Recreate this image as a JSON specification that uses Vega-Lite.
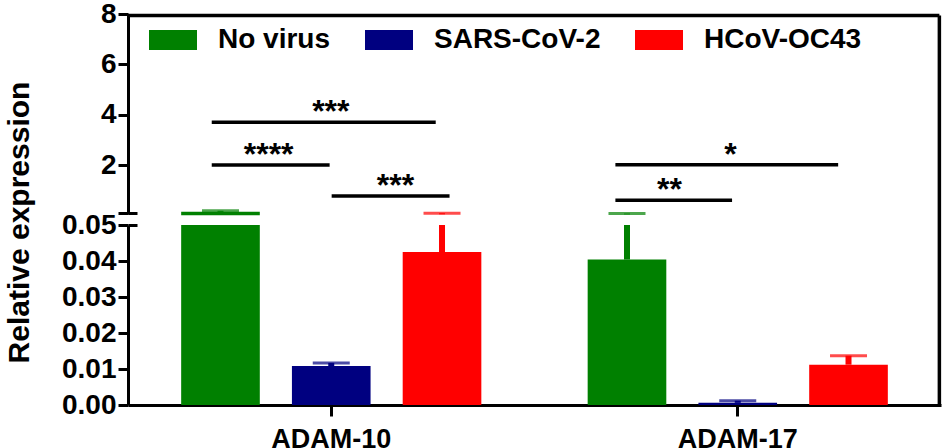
{
  "$schema": "https://vega.github.io/schema/vega-lite/v6.json",
  "description": "ADAM-10 / ADAM-17 relative expression, broken y axis",
  "padding": {"left": 3, "top": 0, "right": 2, "bottom": 0},
  "datasets": {
    "bars": [
      {"gene": "ADAM-10", "group": "No virus", "mean": 0.14, "upper": 0.18},
      {"gene": "ADAM-10", "group": "SARS-CoV-2", "mean": 0.0108, "upper": 0.0117},
      {"gene": "ADAM-10", "group": "HCoV-OC43", "mean": 0.0425, "upper": 0.083},
      {"gene": "ADAM-17", "group": "No virus", "mean": 0.0404, "upper": 0.07},
      {"gene": "ADAM-17", "group": "SARS-CoV-2", "mean": 0.0006, "upper": 0.0012},
      {"gene": "ADAM-17", "group": "HCoV-OC43", "mean": 0.0112, "upper": 0.0137}
    ],
    "sig": [
      {"x1": 0.206, "x2": 0.757, "y": 3.7, "tx": 0.499, "label": "***"},
      {"x1": 0.206, "x2": 0.496, "y": 2.0, "tx": 0.346, "label": "****"},
      {"x1": 0.501, "x2": 0.791, "y": 0.77, "tx": 0.658, "label": "***"},
      {"x1": 1.199, "x2": 1.747, "y": 2.01, "tx": 1.482, "label": "*"},
      {"x1": 1.199, "x2": 1.486, "y": 0.6, "tx": 1.332, "label": "**"}
    ],
    "frameTop": [
      {"x1": 0, "x2": 1.996, "y1": 7.94, "y2": 7.94},
      {"x1": 1.996, "x2": 1.996, "y1": -0.383, "y2": 7.94}
    ],
    "frameBottom": [
      {"x1": 1.996, "y1": 0, "y2": 0.05}
    ]
  },
  "spacing": 0,
  "bounds": "flush",
  "vconcat": [
    {
      "width": 813,
      "height": 211,
      "layer": [
        {
          "data": {"name": "bars"},
          "encoding": {
            "x": {
              "field": "gene",
              "type": "nominal",
              "scale": {"paddingInner": 0, "paddingOuter": 0},
              "axis": null
            },
            "xOffset": {
              "field": "group",
              "type": "nominal",
              "sort": ["No virus", "SARS-CoV-2", "HCoV-OC43"],
              "scale": {"paddingInner": 0.29, "paddingOuter": 0.48}
            },
            "color": {
              "field": "group",
              "type": "nominal",
              "scale": {
                "domain": ["No virus", "SARS-CoV-2", "HCoV-OC43"],
                "range": ["#008000", "#000080", "#ff0000"]
              },
              "legend": {
                "title": null,
                "orient": "none",
                "direction": "horizontal",
                "legendX": 21,
                "legendY": 2
              }
            }
          },
          "layer": [
            {
              "transform": [{"filter": "datum.mean > 0.05"}],
              "mark": {"type": "bar", "clip": true},
              "encoding": {
                "y": {
                  "field": "mean",
                  "type": "quantitative",
                  "scale": {"domain": [-0.383, 8], "nice": false},
                  "axis": {
                    "title": null,
                    "values": [0.1, 2, 4, 6, 8],
                    "labelExpr": "datum.value < 1 ? '' : format(datum.value, 'd')",
                    "grid": true,
                    "gridColor": "black",
                    "gridWidth": 3,
                    "gridDash": [9, 3000],
                    "gridOpacity": {"condition": {"test": "datum.value < 1", "value": 1}, "value": 0},
                    "domainDash": [0, 11, 3000]
                  }
                }
              }
            },
            {
              "transform": [{"filter": "datum.upper > 0.05"}],
              "mark": {"type": "rule", "clip": true, "strokeWidth": 6},
              "encoding": {
                "y": {"field": "mean", "type": "quantitative"},
                "y2": {"field": "upper"}
              }
            },
            {
              "transform": [{"filter": "datum.upper > 0.05"}],
              "mark": {"type": "tick", "clip": true, "size": 37, "thickness": 3},
              "encoding": {
                "y": {"field": "upper", "type": "quantitative"}
              }
            }
          ]
        },
        {
          "layer": [
            {
              "data": {"name": "sig"},
              "mark": {"type": "rule", "color": "black", "strokeWidth": 3.5},
              "encoding": {
                "x": {"field": "x1", "type": "quantitative", "scale": {"domain": [0, 2], "nice": false}, "axis": null},
                "x2": {"field": "x2"},
                "y": {"field": "y", "type": "quantitative", "axis": null}
              }
            },
            {
              "data": {"name": "sig"},
              "mark": {
                "type": "text",
                "color": "black",
                "font": "Liberation Sans",
                "fontSize": 32,
                "fontWeight": "bold",
                "align": "center",
                "baseline": "alphabetic"
              },
              "encoding": {
                "x": {"field": "tx", "type": "quantitative", "scale": {"domain": [0, 2], "nice": false}, "axis": null},
                "y": {"field": "y", "type": "quantitative", "axis": null},
                "text": {"field": "label"}
              }
            },
            {
              "data": {"name": "frameTop"},
              "mark": {"type": "rule", "color": "black", "strokeWidth": 3.5},
              "encoding": {
                "x": {"field": "x1", "type": "quantitative", "scale": {"domain": [0, 2], "nice": false}, "axis": null},
                "x2": {"field": "x2"},
                "y": {"field": "y1", "type": "quantitative", "axis": null},
                "y2": {"field": "y2"}
              }
            }
          ]
        }
      ],
      "resolve": {"scale": {"x": "independent"}, "axis": {"y": "independent"}}
    },
    {
      "width": 813,
      "height": 180,
      "layer": [
        {
          "data": {"name": "bars"},
          "encoding": {
            "x": {
              "field": "gene",
              "type": "nominal",
              "scale": {"paddingInner": 0, "paddingOuter": 0},
              "axis": {"title": null, "labelAngle": 0, "labelFontSize": 27, "labelPadding": 10, "tickSize": 11}
            },
            "xOffset": {
              "field": "group",
              "type": "nominal",
              "sort": ["No virus", "SARS-CoV-2", "HCoV-OC43"],
              "scale": {"paddingInner": 0.29, "paddingOuter": 0.48}
            },
            "color": {
              "field": "group",
              "type": "nominal",
              "scale": {
                "domain": ["No virus", "SARS-CoV-2", "HCoV-OC43"],
                "range": ["#008000", "#000080", "#ff0000"]
              },
              "legend": {
                "title": null,
                "orient": "none",
                "direction": "horizontal",
                "legendX": 21,
                "legendY": 2
              }
            }
          },
          "layer": [
            {
              "mark": {"type": "bar", "clip": true},
              "encoding": {
                "y": {
                  "field": "mean",
                  "type": "quantitative",
                  "scale": {"domain": [0, 0.05], "nice": false},
                  "axis": {
                    "title": "Relative expression",
                    "values": [0, 0.01, 0.02, 0.03, 0.04, 0.05],
                    "format": ".2f",
                    "grid": true,
                    "gridColor": "black",
                    "gridWidth": 3,
                    "gridDash": [9, 3000],
                    "gridOpacity": {"condition": {"test": "datum.value == 0.05", "value": 1}, "value": 0},
                    "titleY": -3,
                    "titleX": -94,
                    "titleAlign": "center",
                    "titleBaseline": "bottom",
                    "titleAngle": -90
                  }
                }
              }
            },
            {
              "mark": {"type": "rule", "clip": true, "strokeWidth": 6},
              "encoding": {
                "y": {"field": "mean", "type": "quantitative", "axis": null},
                "y2": {"field": "upper"}
              }
            },
            {
              "mark": {"type": "tick", "clip": true, "size": 37, "thickness": 3},
              "encoding": {
                "y": {"field": "upper", "type": "quantitative", "axis": null}
              }
            }
          ],
          "resolve": {"axis": {"y": "independent"}}
        },
        {
          "data": {"name": "frameBottom"},
          "mark": {"type": "rule", "color": "black", "strokeWidth": 3.5},
          "encoding": {
            "x": {"field": "x1", "type": "quantitative", "scale": {"domain": [0, 2], "nice": false}, "axis": null},
            "y": {"field": "y1", "type": "quantitative", "axis": null},
            "y2": {"field": "y2"}
          }
        }
      ],
      "resolve": {"scale": {"x": "independent"}, "axis": {"y": "independent"}}
    }
  ],
  "config": {
    "font": "Liberation Sans",
    "view": {"stroke": null},
    "axis": {
      "grid": false,
      "domainColor": "black",
      "domainWidth": 3,
      "tickColor": "black",
      "tickWidth": 3,
      "tickSize": 10,
      "labelFont": "Liberation Sans",
      "labelFontWeight": "bold",
      "labelFontSize": 28,
      "labelColor": "black",
      "labelPadding": 2,
      "titleFont": "Liberation Sans",
      "titleFontWeight": "bold",
      "titleFontSize": 30,
      "titleColor": "black"
    },
    "legend": {
      "labelFont": "Liberation Sans",
      "labelFontWeight": "bold",
      "labelFontSize": 28,
      "labelColor": "black",
      "labelLimit": 0,
      "labelOffset": 21,
      "columnPadding": 34,
      "symbolType": "M-1,-0.42H1V0.42H-1Z",
      "symbolSize": 2304,
      "symbolStrokeWidth": 0,
      "symbolOpacity": 1
    }
  }
}
